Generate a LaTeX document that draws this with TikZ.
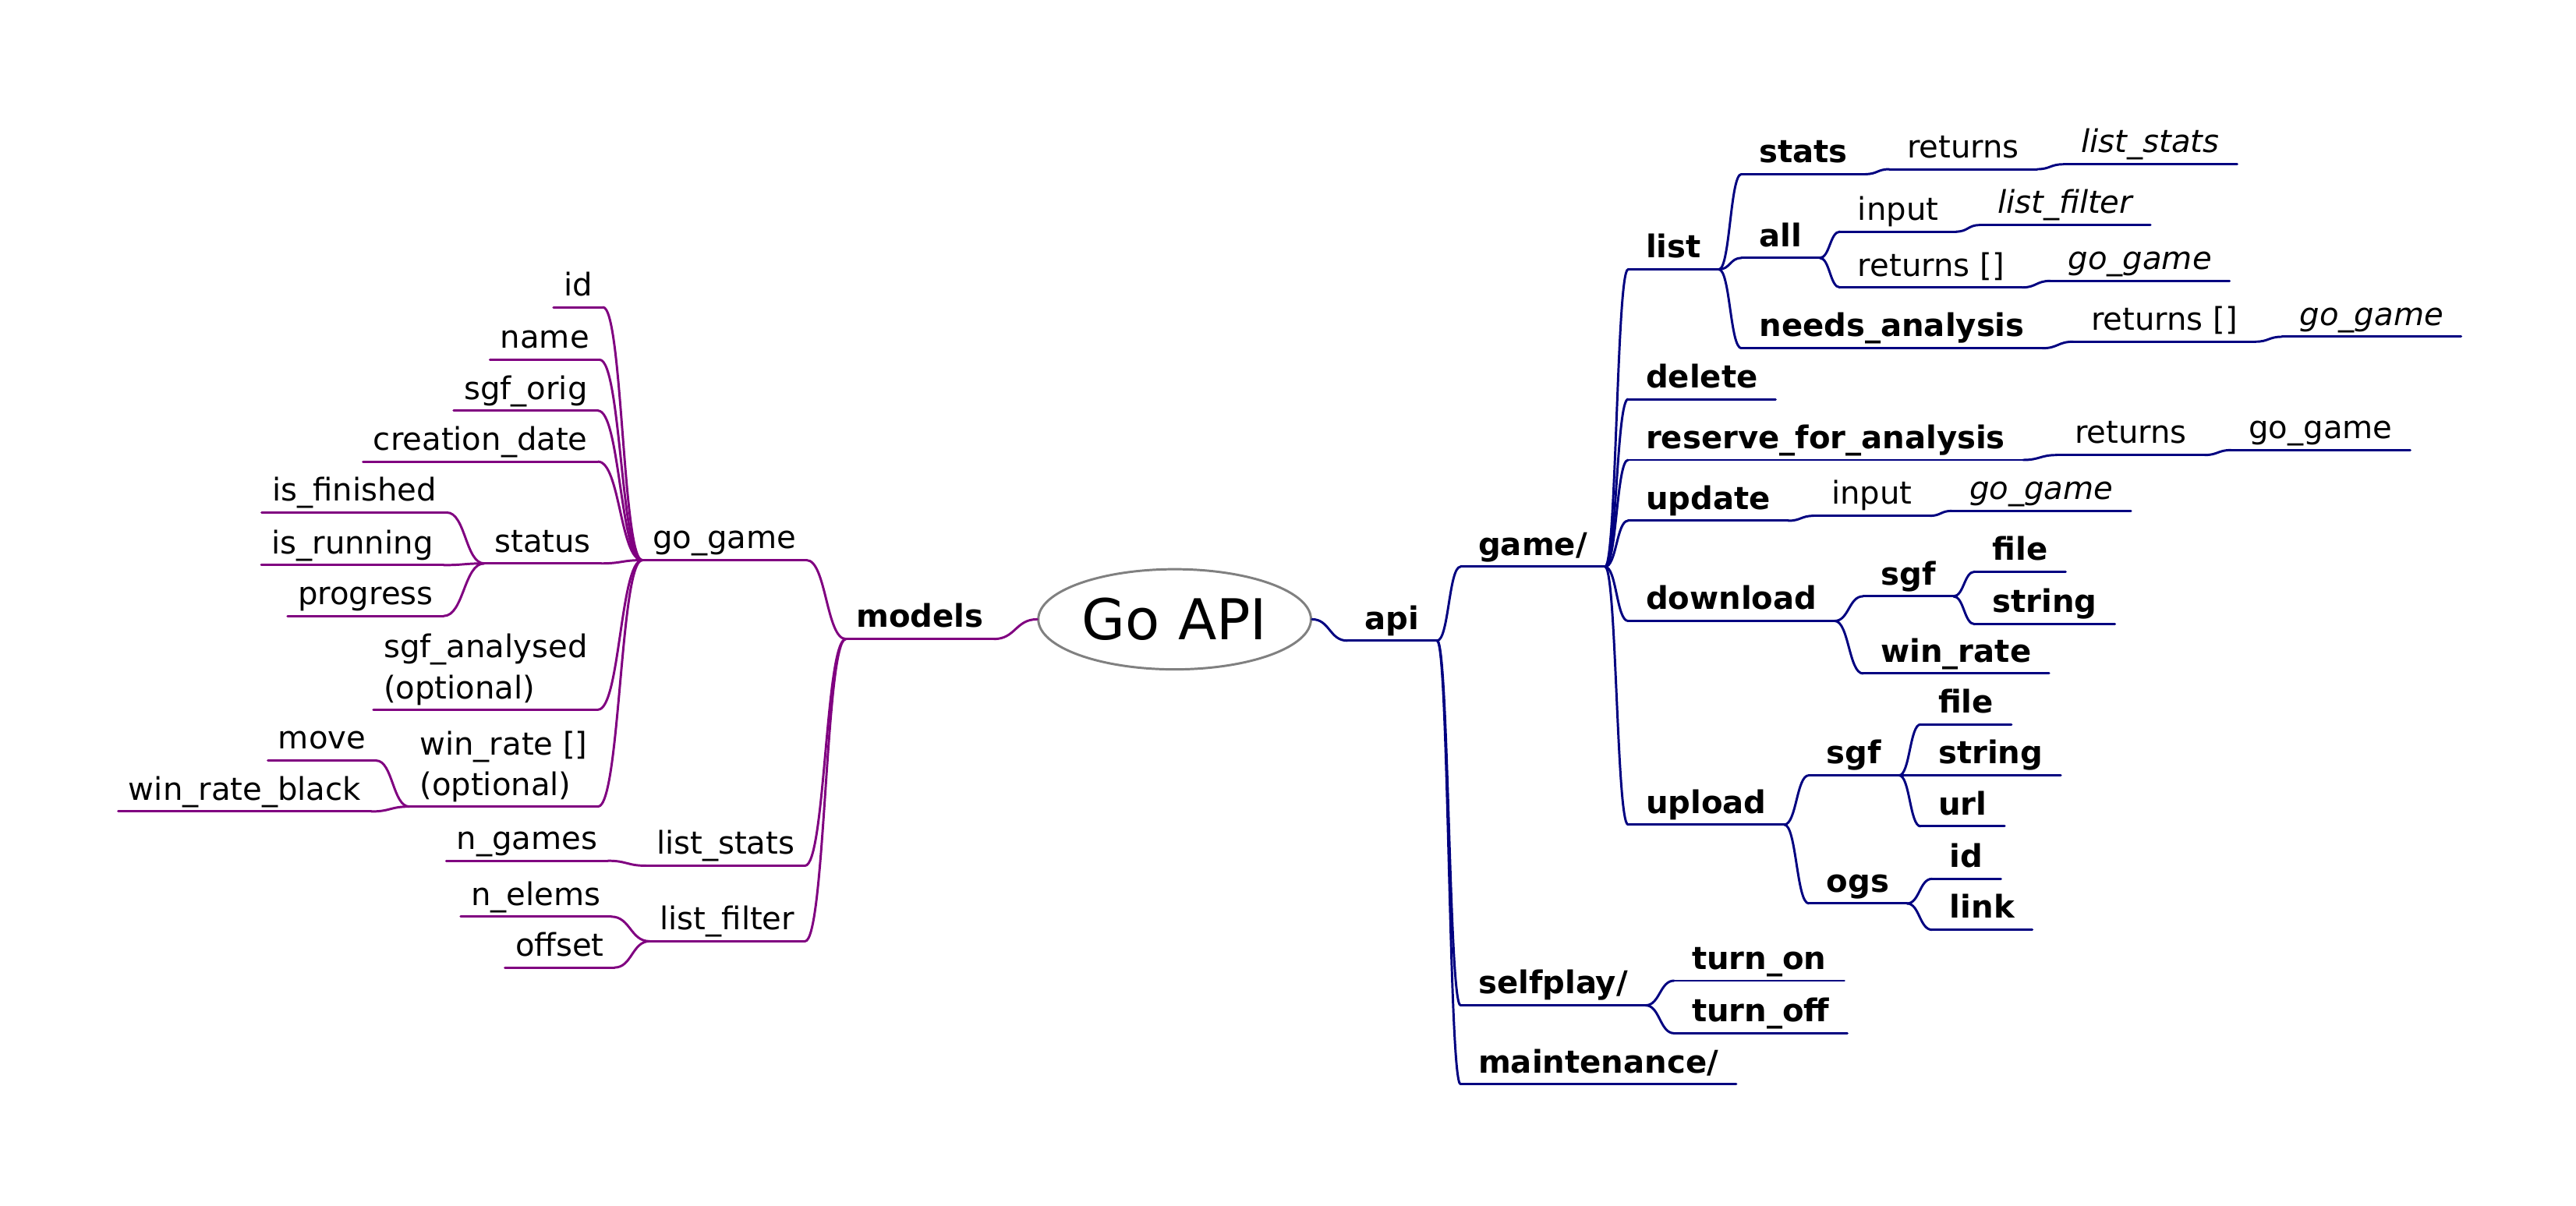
\documentclass[tikz,border=0pt]{standalone}
\usepackage{fontspec}
\setmainfont{DejaVu Sans}
\usetikzlibrary{calc,shapes.geometric}
\definecolor{mapnavy}{HTML}{000080}
\definecolor{mapviolet}{HTML}{800080}
\definecolor{mapgray}{HTML}{808080}
\begin{document}
\begin{tikzpicture}[x=0.02cm,y=-0.02cm,
    every node/.style={font=\fontsize{10.85}{14.2}\selectfont},
    wire/.style={line width=0.8pt,line cap=round},
    rnode/.style={anchor=south west,inner xsep=0.21cm,inner ysep=0.045cm,
      text height=0.75em,text depth=0.25em,
      append after command={(\tikzlastnode.south west) edge[wire,mapnavy] (\tikzlastnode.south east)}},
    lnode/.style={anchor=south east,inner xsep=0.12cm,inner ysep=0.045cm,
      text height=0.75em,text depth=0.25em,
      append after command={(\tikzlastnode.south west) edge[wire,mapviolet] (\tikzlastnode.south east)}},
    strong/.style={font=\fontsize{10.85}{14.2}\selectfont\bfseries},
    typ/.style={font=\fontsize{10.85}{14.2}\selectfont\itshape},
    twoline/.style={align=left,text height={},text depth={}},
    branch/.style={to path={let \p1=(\tikztostart), \p2=(\tikztotarget) in
      (\p1) .. controls ({0.5*\x1+0.5*\x2},\y1) and ({0.5*\x1+0.5*\x2},\y2) .. (\p2)}}]
  \useasboundingbox (0,0) rectangle (1568,734);

  \node[draw=mapgray,ellipse,line width=0.8pt,inner sep=0pt,minimum width=3.32cm,minimum height=1.22cm,
    font=\fontsize{19.5}{23}\selectfont] (root) at (715,377) {Go API};

  % api side
  \node[rnode,strong] (api) at (820,390) {api};
  \node[rnode,strong] (game) at (889,345) {game/};
  \node[rnode,strong] (list) at (991,164) {list};
  \node[rnode,strong] (stats) at (1060,106) {stats};
  \node[rnode] (stret) at (1150,103) {returns};
  \node[rnode,typ] (lstats) at (1256,100) {list\_stats};
  \node[rnode,strong] (all) at (1060,157) {all};
  \node[rnode] (allin) at (1120,141) {input};
  \node[rnode,typ] (lfilter) at (1205,137) {list\_filter};
  \node[rnode] (allret) at (1120,175) {returns []};
  \node[rnode,typ] (allgg) at (1248,171) {go\_game};
  \node[rnode,strong] (needs) at (1060,212) {needs\_analysis};
  \node[rnode] (needsret) at (1262,208) {returns []};
  \node[rnode,typ] (needsgg) at (1389,205) {go\_game};
  \node[rnode,strong] (delete) at (991,243) {delete};
  \node[rnode,strong] (reserve) at (991,280) {reserve\_for\_analysis};
  \node[rnode] (resret) at (1252,277) {returns};
  \node[rnode] (resgg) at (1358,274) {go\_game};
  \node[rnode,strong] (update) at (991,317) {update};
  \node[rnode] (updin) at (1104,314) {input};
  \node[rnode,typ] (updgg) at (1188,311) {go\_game};
  \node[rnode,strong] (download) at (991,378) {download};
  \node[rnode,strong] (dsgf) at (1134,363) {sgf};
  \node[rnode,strong] (dfile) at (1202,348) {file};
  \node[rnode,strong] (dstring) at (1202,380) {string};
  \node[rnode,strong] (dwin) at (1134,410) {win\_rate};
  \node[rnode,strong] (upload) at (991,502) {upload};
  \node[rnode,strong] (usgf) at (1101,472) {sgf};
  \node[rnode,strong] (ufile) at (1169,441) {file};
  \node[rnode,strong] (ustring) at (1169,472) {string};
  \node[rnode,strong] (uurl) at (1169,503) {url};
  \node[rnode,strong] (ogs) at (1101,550) {ogs};
  \node[rnode,strong] (ogsid) at (1176,535) {id};
  \node[rnode,strong] (ogslink) at (1176,566) {link};
  \node[rnode,strong] (selfplay) at (889,612) {selfplay/};
  \node[rnode,strong] (turnon) at (1019,597) {turn\_on};
  \node[rnode,strong] (turnoff) at (1019,629) {turn\_off};
  \node[rnode,strong] (maint) at (889,660) {maintenance/};

  % models side
  \node[lnode,strong] (models) at (605,389) {models};
  \node[lnode] (gogame) at (491,341) {go\_game};
  \node[lnode] (id) at (367,187) {id};
  \node[lnode] (name) at (365,219) {name};
  \node[lnode] (sgforig) at (364,250) {sgf\_orig};
  \node[lnode] (cdate) at (364,281) {creation\_date};
  \node[lnode] (status) at (366,343) {status};
  \node[lnode] (isfin) at (272,312) {is\_finished};
  \node[lnode] (isrun) at (270,344) {is\_running};
  \node[lnode] (progress) at (270,375) {progress};
  \node[lnode,twoline] (sgfan) at (364,432) {sgf\_analysed\\(optional)};
  \node[lnode,twoline] (winrate) at (364,491) {win\_rate []\\(optional)};
  \node[lnode] (move) at (229,463) {move};
  \node[lnode] (wrb) at (226,494) {win\_rate\_black};
  \node[lnode] (lstat) at (490,527) {list\_stats};
  \node[lnode] (ngames) at (370,524) {n\_games};
  \node[lnode] (lfilt) at (490,573) {list\_filter};
  \node[lnode] (nelems) at (372,558) {n\_elems};
  \node[lnode] (offset) at (374,589) {offset};

  \draw[wire,mapnavy] (root.east) to[branch] (api.south west);
  \draw[wire,mapviolet] (root.west) to[branch] (models.south east);
  \foreach \p/\c in {api/game,api/selfplay,api/maint,game/list,game/delete,game/reserve,
      game/update,game/download,game/upload,list/stats,list/all,list/needs,stats/stret,
      stret/lstats,all/allin,allin/lfilter,all/allret,allret/allgg,needs/needsret,
      needsret/needsgg,reserve/resret,resret/resgg,update/updin,updin/updgg,
      download/dsgf,dsgf/dfile,dsgf/dstring,download/dwin,upload/usgf,usgf/ufile,
      usgf/ustring,usgf/uurl,upload/ogs,ogs/ogsid,ogs/ogslink,selfplay/turnon,selfplay/turnoff}
    \draw[wire,mapnavy] (\p.south east) to[branch] (\c.south west);
  \foreach \p/\c in {models/gogame,models/lstat,models/lfilt,gogame/id,gogame/name,
      gogame/sgforig,gogame/cdate,gogame/status,gogame/sgfan,gogame/winrate,
      status/isfin,status/isrun,status/progress,winrate/move,winrate/wrb,
      lstat/ngames,lfilt/nelems,lfilt/offset}
    \draw[wire,mapviolet] (\p.south west) to[branch] (\c.south east);
\end{tikzpicture}
\end{document}
